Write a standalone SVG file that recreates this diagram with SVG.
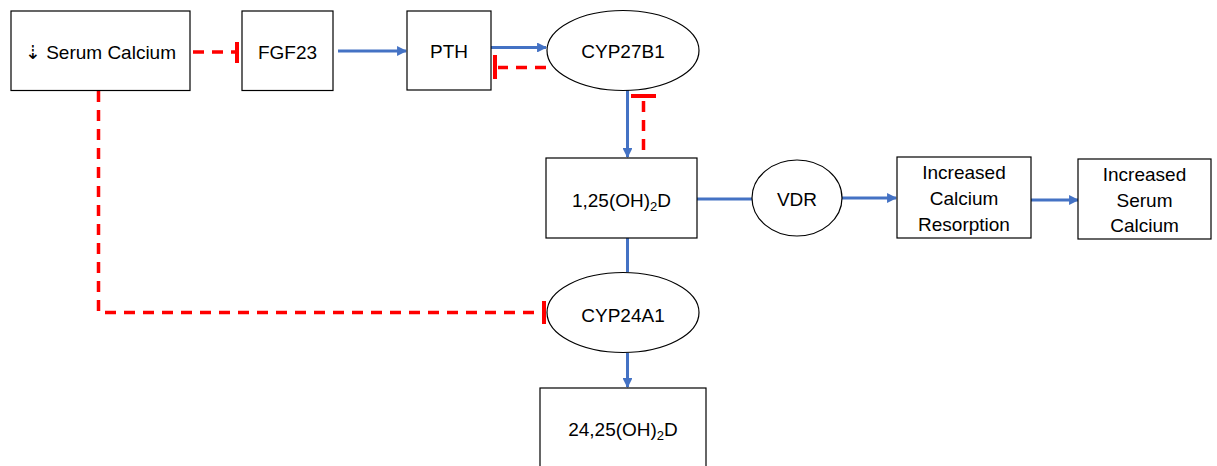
<svg xmlns="http://www.w3.org/2000/svg" width="1217" height="466" viewBox="0 0 1217 466">
  <style>
    .box { fill: #ffffff; stroke: #000000; stroke-width: 1.2; }
    .lbl { font-family: "Liberation Sans", "DejaVu Sans", Arial, sans-serif; font-size: 19px; fill: #000000; text-anchor: middle; }
    .act { fill: none; stroke: #4472C4; stroke-width: 3; }
    .inh { fill: none; stroke: #FF0000; stroke-width: 3.5; stroke-dasharray: 11 8; }
    .bar { fill: none; stroke: #FF0000; stroke-width: 4; }
  </style>
  <defs>
    <marker id="arrow" viewBox="0 0 10 10" refX="9" refY="5" markerWidth="3.3" markerHeight="3.3" orient="auto" markerUnits="strokeWidth">
      <path d="M0,0 L10,5 L0,10 Z" fill="#4472C4"/>
    </marker>
  </defs>
  <rect width="1217" height="466" fill="#ffffff"/>

  <g id="connectors">
    <!-- activation arrows -->
    <line class="act" x1="338" y1="51" x2="406" y2="51" marker-end="url(#arrow)"/>
    <line class="act" x1="491" y1="47.5" x2="546" y2="47.5" marker-end="url(#arrow)"/>
    <line class="act" x1="627.5" y1="90" x2="627.5" y2="157" marker-end="url(#arrow)"/>
    <line class="act" x1="697" y1="199" x2="752" y2="199"/>
    <line class="act" x1="842" y1="198" x2="896" y2="198" marker-end="url(#arrow)"/>
    <line class="act" x1="1031" y1="200" x2="1078" y2="200" marker-end="url(#arrow)"/>
    <line class="act" x1="627.5" y1="238" x2="627.5" y2="272"/>
    <line class="act" x1="627.5" y1="353" x2="627.5" y2="387" marker-end="url(#arrow)"/>
    <!-- inhibition links -->
    <line class="inh" x1="193" y1="52" x2="236" y2="52"/>
    <line class="bar" x1="237" y1="42" x2="237" y2="63"/>
    <line class="inh" x1="546" y1="67.5" x2="498" y2="67.5"/>
    <line class="bar" x1="495" y1="55" x2="495" y2="79"/>
    <line class="inh" x1="643.5" y1="150" x2="643.5" y2="98"/>
    <line class="bar" x1="631" y1="96" x2="656" y2="96"/>
    <polyline class="inh" points="98.5,91 98.5,312.5 542,312.5"/>
    <line class="bar" x1="544" y1="301" x2="544" y2="324"/>
  </g>

  <g id="serum-calcium">
    <rect class="box" x="11" y="11" width="179" height="79.5"/>
    <text class="lbl" x="100.5" y="59">⇣ Serum Calcium</text>
  </g>
  <g id="fgf23">
    <rect class="box" x="242" y="11" width="91" height="79.5"/>
    <text class="lbl" x="287.5" y="58.5">FGF23</text>
  </g>
  <g id="pth">
    <rect class="box" x="407" y="11" width="84" height="79"/>
    <text class="lbl" x="449" y="58">PTH</text>
  </g>
  <g id="cyp27b1">
    <ellipse class="box" cx="623" cy="50.5" rx="76" ry="40"/>
    <text class="lbl" x="623" y="58">CYP27B1</text>
  </g>
  <g id="calcitriol">
    <rect class="box" x="546" y="158" width="151" height="80"/>
    <text class="lbl" x="621.5" y="206.5">1,25(OH)<tspan font-size="13" dy="4">2</tspan><tspan dy="-4">D</tspan></text>
  </g>
  <g id="vdr">
    <ellipse class="box" cx="797" cy="198" rx="45" ry="38"/>
    <text class="lbl" x="797" y="206">VDR</text>
  </g>
  <g id="calcium-resorption">
    <rect class="box" x="897" y="157" width="134" height="81"/>
    <text class="lbl" x="964" y="179">Increased</text>
    <text class="lbl" x="964" y="205">Calcium</text>
    <text class="lbl" x="964" y="231">Resorption</text>
  </g>
  <g id="serum-calcium-up">
    <rect class="box" x="1078" y="159" width="133" height="80"/>
    <text class="lbl" x="1144.5" y="181">Increased</text>
    <text class="lbl" x="1144.5" y="206.5">Serum</text>
    <text class="lbl" x="1144.5" y="232">Calcium</text>
  </g>
  <g id="cyp24a1">
    <ellipse class="box" cx="623" cy="312.5" rx="76" ry="40"/>
    <text class="lbl" x="623" y="321.5">CYP24A1</text>
  </g>
  <g id="calcitroic">
    <rect class="box" x="540" y="388" width="166" height="90"/>
    <text class="lbl" x="623" y="435.5">24,25(OH)<tspan font-size="13" dy="4">2</tspan><tspan dy="-4">D</tspan></text>
  </g>
</svg>
